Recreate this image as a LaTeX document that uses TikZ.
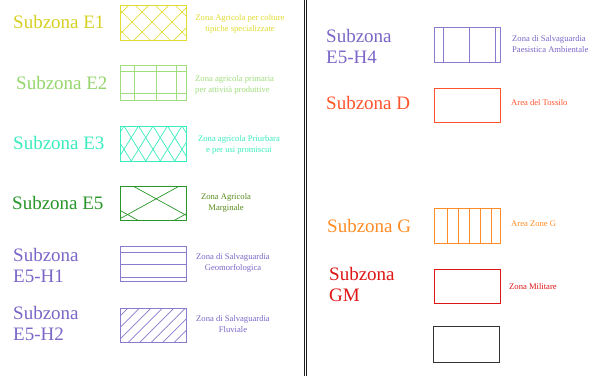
\documentclass[tikz,border=0pt]{standalone}
\usepackage{fontspec}
\setmainfont{Liberation Serif}
\definecolor{cEone}{RGB}{214,208,34}
\definecolor{cEonebox}{RGB}{226,220,50}
\definecolor{cEtwo}{RGB}{150,214,110}
\definecolor{cEtwobox}{RGB}{160,222,125}
\definecolor{cEthree}{RGB}{58,236,190}
\definecolor{cEfive}{RGB}{40,150,40}
\definecolor{cEfivetxt}{RGB}{88,140,28}
\definecolor{cH}{RGB}{124,102,200}
\definecolor{cHbox}{RGB}{140,122,206}
\definecolor{cD}{RGB}{255,84,44}
\definecolor{cG}{RGB}{255,140,36}
\definecolor{cGM}{RGB}{222,22,22}
\definecolor{cBlack}{RGB}{50,50,50}
\definecolor{cSep}{RGB}{30,30,30}
\begin{document}
\begin{tikzpicture}[x=1pt,y=-1pt,
  zonelabel/.style={anchor=west,inner sep=0pt,align=left,
    font=\fontsize{19}{21}\selectfont},
  zonenote/.style={inner sep=0pt,align=center,
    font=\fontsize{8.6}{11}\selectfont},
  legbox/.style={draw,line width=1pt,minimum width=66pt,minimum height=35pt,
    inner sep=0pt,outer sep=0pt},
  hatch/.style={line width=0.7pt}]

% page
\fill[white] (0,0) rectangle (590,376);
\useasboundingbox (0,0) rectangle (590,376);

% double separator between the two columns
\draw[cSep,line width=0.8pt] (304,0) -- (304,376);
\draw[cSep,line width=0.8pt] (306.5,0) -- (306.5,376);

% ---------------- left column ----------------
% E1
\node[zonelabel,text=cEone] (lE1) at (13,22) {Subzona E1};
\node[legbox,draw=cEonebox] (bE1) at (153,22.5) {};
\begin{scope}
  \clip (bE1.north west) rectangle (bE1.south east);
  \foreach \c in {70,90,...,190} \draw[hatch,cEonebox] (\c,0) -- ++(50,50);
  \foreach \c in {134,154,...,234} \draw[hatch,cEonebox] (\c,0) -- ++(-50,50);
\end{scope}
\node[zonenote,text=cEonebox] (tE1) at (240,23.5)
  {Zona Agricola per colture\\tipiche specializzate};

% E2
\node[zonelabel,text=cEtwo] (lE2) at (16,83) {Subzona E2};
\node[legbox,draw=cEtwobox] (bE2) at (153,83) {};
\foreach \y in {71,93} \draw[hatch,cEtwobox] (bE2.west |- 0,\y) -- (bE2.east |- 0,\y);
\foreach \x in {134,156,176} \draw[hatch,cEtwobox] (\x,0 |- bE2.north) -- (\x,0 |- bE2.south);
\node[zonenote,text=cEtwobox,align=left,anchor=west] (tE2) at (195,85)
  {Zona agricola primaria\\per attività produttive};

% E3
\node[zonelabel,text=cEthree] (lE3) at (13,143) {Subzona E3};
\node[legbox,draw=cEthree] (bE3) at (153,143.5) {};
\begin{scope}
  \clip (bE3.north west) rectangle (bE3.south east);
  \foreach \a in {95,109.5,...,200} {
    \draw[hatch,cEthree] (\a,126) -- ++(21.75,35);
    \draw[hatch,cEthree] (\a,126) -- ++(-21.75,35);
  }
\end{scope}
\node[zonenote,text=cEthree] (tE3) at (239,145)
  {Zona agricola Priurbara\\e per usi promiscui};

% E5
\node[zonelabel,text=cEfive] (lE5) at (12,203) {Subzona E5};
\node[legbox,draw=cEfive,minimum height=34pt] (bE5) at (153,203.5) {};
\begin{scope}
  \clip (bE5.north west) rectangle (bE5.south east);
  \foreach \b in {112.9,144.4} \draw[hatch,cEfive] (100,55+\b) -- (200,110+\b);
  \foreach \c in {284.7,316.2} \draw[hatch,cEfive] (100,\c-55) -- (200,\c-110);
\end{scope}
\node[zonenote,text=cEfivetxt] (tE5) at (226,202.5)
  {Zona Agricola\\Marginale};

% E5-H1
\node[zonelabel,text=cH] (lH1) at (13,265) {Subzona\\E5-H1};
\node[legbox,draw=cHbox] (bH1) at (153,263.5) {};
\foreach \y in {252,264,277} \draw[hatch,cHbox] (bH1.west |- 0,\y) -- (bH1.east |- 0,\y);
\node[zonenote,text=cH] (tH1) at (233,262.5)
  {Zona di Salvaguardia\\Geomorfologica};

% E5-H2
\node[zonelabel,text=cH] (lH2) at (13,323.5) {Subzona\\E5-H2};
\node[legbox,draw=cHbox,minimum height=34pt] (bH2) at (153,325) {};
\begin{scope}
  \clip (bH2.north west) rectangle (bH2.south east);
  \foreach \c in {436,447.5,...,530} \draw[hatch,cHbox] (\c-300,300) -- ++(-50,50);
\end{scope}
\node[zonenote,text=cH] (tH2) at (233,324)
  {Zona di Salvaguardia\\Fluviale};

% ---------------- right column ----------------
% E5-H4
\node[zonelabel,text=cH] (lH4) at (326,46) {Subzona\\E5-H4};
\node[legbox,draw=cHbox] (bH4) at (467.5,44.5) {};
\foreach \x in {443,469,495} \draw[hatch,cHbox] (\x,0 |- bH4.north) -- (\x,0 |- bH4.south);
\node[zonenote,text=cH,align=left,anchor=west] (tH4) at (512,44.5)
  {Zona di Salvaguardia\\Paesistica Ambientale};

% D
\node[zonelabel,text=cD] (lD) at (326,103) {Subzona D};
\node[legbox,draw=cD,minimum height=34pt] (bD) at (467.5,105) {};
\node[zonenote,text=cD,anchor=west] (tD) at (511,103) {Area del Tossilo};

% G
\node[zonelabel,text=cG] (lG) at (327,226) {Subzona G};
\node[legbox,draw=cG] (bG) at (467.5,225.5) {};
\foreach \x in {447,458,469,480,491} \draw[hatch,cG] (\x,0 |- bG.north) -- (\x,0 |- bG.south);
\node[zonenote,text=cG,anchor=west] (tG) at (511,224) {Area Zone G};

% GM
\node[zonelabel,text=cGM] (lGM) at (329,284) {Subzona\\GM};
\node[legbox,draw=cGM,minimum height=34pt] (bGM) at (467.5,286) {};
\node[zonenote,text=cGM,anchor=west] (tGM) at (509,287) {Zona Militare};

% empty black box
\node[legbox,draw=cBlack,minimum height=36pt] (bK) at (466.5,344) {};
\end{tikzpicture}
\end{document}
